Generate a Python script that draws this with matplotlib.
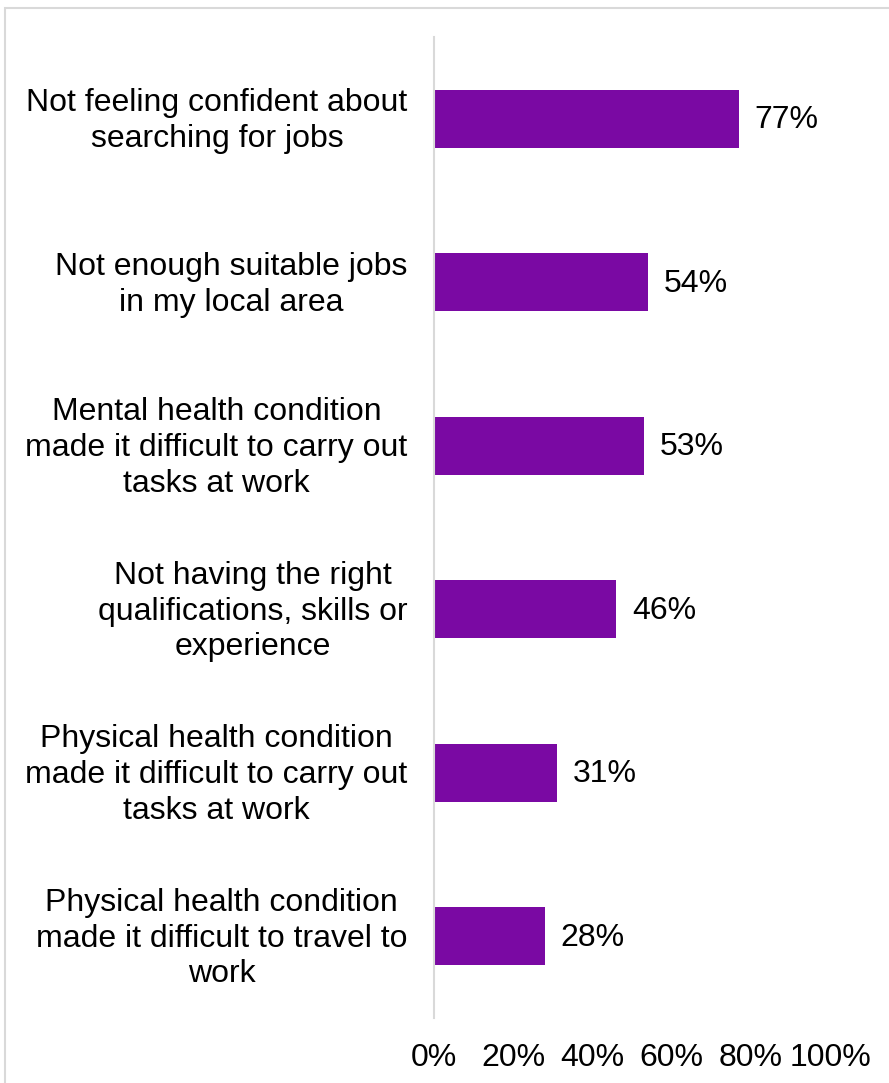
import matplotlib.pyplot as plt
import matplotlib.transforms as mtransforms
from matplotlib.patches import Rectangle

plt.rcParams['font.family'] = ['Liberation Sans', 'DejaVu Sans']

barriers = [
    "Not feeling confident about\nsearching for jobs",
    "Not enough suitable jobs\nin my local area",
    "Mental health condition\nmade it difficult to carry out\ntasks at work",
    "Not having the right\nqualifications, skills or\nexperience",
    "Physical health condition\nmade it difficult to carry out\ntasks at work",
    "Physical health condition\nmade it difficult to travel to\nwork",
]
shares = [77, 54, 53, 46, 31, 28]
ticks = [0, 20, 40, 60, 80, 100]

W, H = 889, 1083
fig = plt.figure(figsize=(W / 100, H / 100), dpi=100)
ax = fig.add_axes([434 / W, (H - 1018) / H, (830 - 434) / W, (1018 - 37) / H])

# outer frame of the chart area, running off the right and bottom edges
fig.patches.append(Rectangle((4.5 / W, -0.1), 1.2, (H - 7.5) / H + 0.1,
                             transform=fig.transFigure, fill=False,
                             edgecolor='#d9d9d9', linewidth=1.5))

pos = list(range(len(barriers)))
ax.barh(pos, shares, height=0.355, color='#7a09a3')
for y, v in zip(pos, shares):
    ax.text(v + 4, y + 0.01, f"{v}%", va='center', ha='left', fontsize=23)

ax.set_xlim(0, 100)
ax.set_ylim(len(barriers) - 0.5, -0.5)
ax.set_yticks(pos)
ax.set_yticklabels(barriers, fontsize=23, linespacing=1.25, ha='right',
                   multialignment='center')
ax.set_xticks(ticks)
ax.set_xticklabels([f"{t}%" for t in ticks], fontsize=23)
ax.tick_params(axis='y', length=0, pad=19)
ax.tick_params(axis='x', length=0, pad=18)

# nudge the category labels up a few pixels
shift = mtransforms.ScaledTranslation(0, 4 / 100, fig.dpi_scale_trans)
for lbl in ax.get_yticklabels():
    lbl.set_transform(lbl.get_transform() + shift)

for side in ['top', 'right', 'bottom']:
    ax.spines[side].set_visible(False)
ax.spines['left'].set_color('#d9d9d9')
ax.spines['left'].set_linewidth(1.5)

fig.savefig('out.png', dpi=100)
